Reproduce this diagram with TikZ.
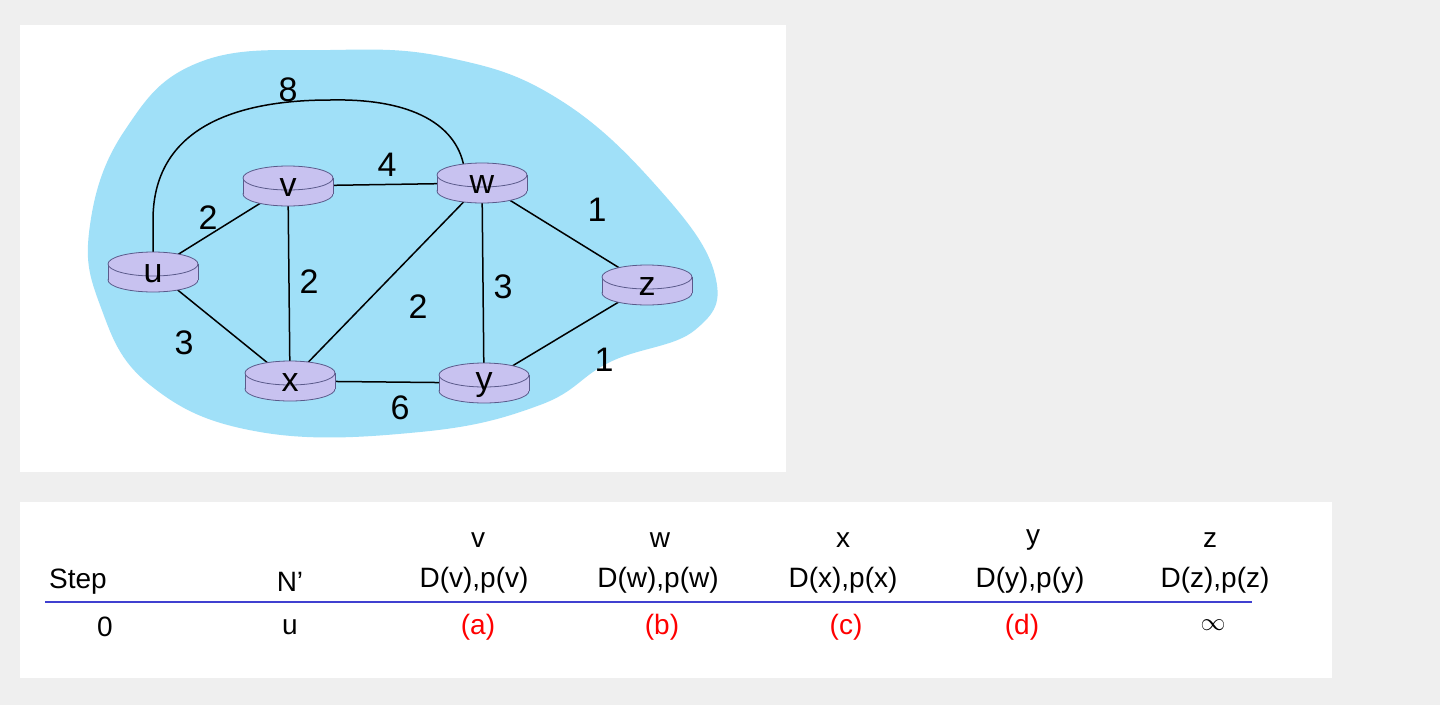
\documentclass[tikz,border=0pt]{standalone}
\usepackage{fontspec}
\setmainfont{Liberation Sans}
\definecolor{bgc}{HTML}{EFEFEF}
\definecolor{blob}{HTML}{A0E0F8}
\definecolor{rt}{HTML}{C8C2F0}
\definecolor{rte}{HTML}{5A5A8A}
\definecolor{lnc}{HTML}{4040D0}
\tikzset{
 lbl/.style={font=\fontsize{34}{36}\selectfont},
 tx/.style={font=\fontsize{28}{30}\selectfont},
 red/.style={tx,text=red},
 edge/.style={line width=1.5pt,black},
}
\newcommand{\router}[3]{%
 \filldraw[fill=rt,draw=rte,line width=0.8pt] (#1,#2+8) ellipse[x radius=45,y radius=12];
 \fill[rt] (#1-45,#2-8) rectangle (#1+45,#2+8);
 \draw[rte,line width=0.8pt] (#1-45,#2-8)--(#1-45,#2+8) (#1+45,#2-8)--(#1+45,#2+8);
 \filldraw[fill=rt,draw=rte,line width=0.8pt] (#1,#2-8) ellipse[x radius=45,y radius=12];
 \node[lbl] (#3) at (#1,#2+2) {#3};}
\begin{document}
\begin{tikzpicture}[x=1pt,y=-1pt]
\fill[bgc] (0,0) rectangle (1440,705);
\fill[white] (20,25) rectangle (786,472);
\fill[white] (20,502) rectangle (1332,678);
\fill[blob] plot[smooth cycle,tension=0.7] coordinates{(90,225) (125,130) (200,62) (330,50) (450,58) (560,100) (660,190) (715,275) (695,330) (610,362) (540,405) (420,432) (260,432) (150,385) (100,305)};
\coordinate (uc) at (153,270); \coordinate (vc) at (288,186); \coordinate (wc) at (482,183);
\coordinate (zc) at (647,285); \coordinate (xc) at (290,381); \coordinate (yc) at (484,383);
\draw[edge] (uc)--(vc) (uc)--(xc) (vc)--(wc) (vc)--(xc) (wc)--(xc) (wc)--(yc) (wc)--(zc) (xc)--(yc) (yc)--(zc);
\draw[edge] (uc) -- (153,220) .. controls (153,120) and (250,100) .. (330,100) .. controls (420,98) and (462,130) .. (465,175);
\router{153}{272}{u}\router{288}{186}{v}\router{482}{183}{w}
\router{647}{285}{z}\router{290}{381}{x}\router{484}{383}{y}
\node[lbl] (l8) at (288,90) {8}; \node[lbl] (l4) at (387,165) {4};
\node[lbl] (l2a) at (208,218) {2}; \node[lbl] (l2b) at (309,282) {2};
\node[lbl] (l2c) at (418,307) {2}; \node[lbl] (l3a) at (503,287) {3};
\node[lbl] (l1a) at (597,210) {1}; \node[lbl] (l1b) at (604,360) {1};
\node[lbl] (l3b) at (184,343) {3}; \node[lbl] (l6) at (400,408) {6};
\node[tx] (hv) at (478,540) {v}; \node[tx] (hw) at (660,540) {w}; \node[tx] (hx) at (843,540) {x};
\node[tx] (hy) at (1033,540) {y}; \node[tx] (hz) at (1210,540) {z};
\node[tx] (step) at (78,582) {Step}; \node[tx] (np) at (290,582) {N'};
\node[tx] (dv) at (474,580) {D(v),p(v)}; \node[tx] (dw) at (658,580) {D(w),p(w)};
\node[tx] (dx) at (843,580) {D(x),p(x)}; \node[tx] (dy) at (1030,580) {D(y),p(y)};
\node[tx] (dz) at (1215,580) {D(z),p(z)};
\coordinate (ls) at (45,602); \coordinate (le) at (1252,602);
\draw[lnc,line width=2pt] (ls)--(le);
\node[tx] (s0) at (105,627) {0}; \node[tx] (nu) at (290,627) {u};
\node[red] (a) at (478,627) {(a)}; \node[red] (b) at (662,627) {(b)};
\node[red] (c) at (846,627) {(c)}; \node[red] (d) at (1022,627) {(d)};
\node[tx] (inf) at (1213,625) {$\infty$};
\end{tikzpicture}
\end{document}
